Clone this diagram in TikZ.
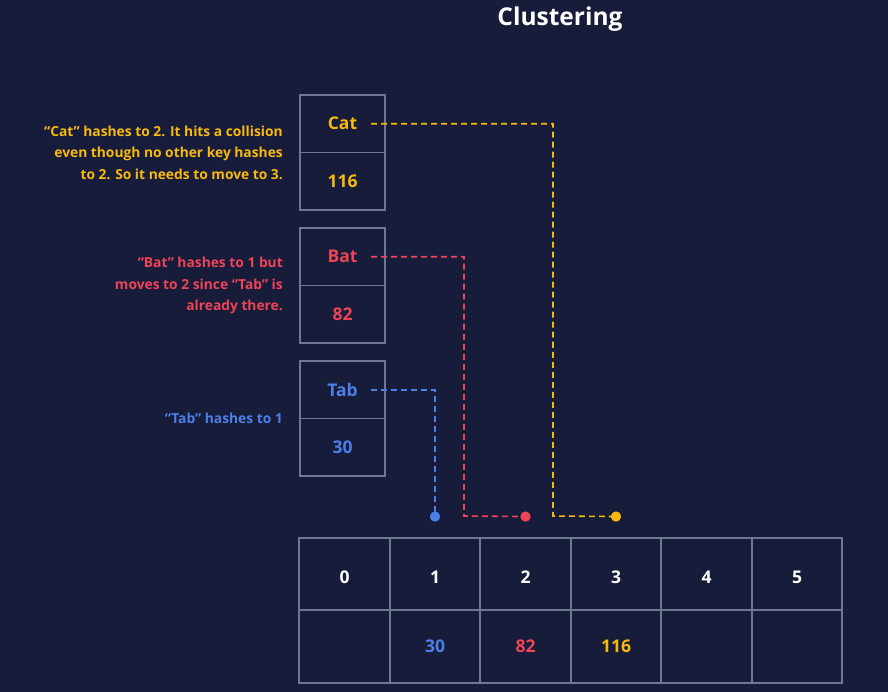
\documentclass[tikz,border=0pt]{standalone}
\usepackage{fontspec}
\setmainfont{Open Sans}
\usetikzlibrary{positioning}

\definecolor{bgnavy}{HTML}{161C3A}
\definecolor{boxgray}{HTML}{6E7891}
\definecolor{catyellow}{HTML}{F7B90F}
\definecolor{batred}{HTML}{EF4458}
\definecolor{tabblue}{HTML}{4C7FE8}

\begin{document}
\begin{tikzpicture}[x=1pt, y=-1pt,
    keycell/.style={draw=boxgray, line width=1.8pt, minimum width=85pt, minimum height=57.5pt,
        inner sep=0pt, outer sep=0pt, font=\bfseries\fontsize{17.5}{20}\selectfont},
    slot/.style={draw=boxgray, line width=1.8pt, minimum width=90.5pt, minimum height=72.5pt,
        inner sep=0pt, outer sep=0pt},
    slottext/.style={font=\bfseries\fontsize{17.5}{20}\selectfont},
    note/.style={align=right, inner sep=0pt, font=\bfseries\fontsize{13.8}{21.5}\selectfont},
    link/.style={dash pattern=on 6pt off 4pt, line width=1.6pt},
    hashdot/.style={circle, inner sep=0pt, minimum size=10pt}]

    % --- background ---
    \fill[bgnavy] (0,0) rectangle (888,692);
    \useasboundingbox (0,0) rectangle (888,692);

    \node[text=white, font=\bfseries\fontsize{24.5}{28}\selectfont] (title) at (560,19) {Clustering};

    % --- keys and values ---
    \node[keycell, text=catyellow] (catK) at (342.5,123.75) {Cat};
    \node[keycell, text=catyellow, below=0pt of catK] (catV) {116};
    \node[keycell, text=batred] (batK) at (342.5,256.75) {Bat};
    \node[keycell, text=batred, below=0pt of batK] (batV) {82};
    \node[keycell, text=tabblue] (tabK) at (342.5,389.75) {Tab};
    \node[keycell, text=tabblue, below=0pt of tabK] (tabV) {30};

    % --- notes ---
    \node[note, text=catyellow, left=17pt of catK.south west] (catNote)
        {“Cat” hashes to 2. It hits a collision\\even though no other key hashes\\to 2. So it needs to move to 3.};
    \node[note, text=batred, left=17pt of batK.south west] (batNote)
        {“Bat” hashes to 1 but\\moves to 2 since “Tab” is\\already there.};
    \node[note, text=tabblue, left=17pt of tabK.south west] (tabNote) {“Tab” hashes to 1};

    % --- hash table ---
    \foreach \i in {0,...,5} {
        \node[slot] (slot\i) at (344.5+90.5*\i,574) {};
        \node[slot, below=0pt of slot\i] (val\i) {};
        \node[slottext, text=white] (num\i) at ([yshift=-3pt]slot\i.center) {\i};
    }
    \node[slottext, text=tabblue] (tabCell) at (val1) {30};
    \node[slottext, text=batred] (batCell) at (val2) {82};
    \node[slottext, text=catyellow] (catCell) at (val3) {116};

    % --- dots above the slots ---
    \node[hashdot, fill=tabblue, above=16pt of slot1.north] (tabDot) {};
    \node[hashdot, fill=batred, above=16pt of slot2.north] (batDot) {};
    \node[hashdot, fill=catyellow, above=16pt of slot3.north] (catDot) {};

    % --- probing paths ---
    \coordinate (batTurn) at (464,516);
    \coordinate (catTurn) at (553,516);
    \draw[link, tabblue] ([xshift=28.5pt]tabK.center) -| (tabDot.center);
    \draw[link, batred] ([xshift=28.5pt]batK.center) -| (batTurn) -- (batDot.center);
    \draw[link, catyellow] ([xshift=28.5pt]catK.center) -| (catTurn) -- (catDot.center);
    \fill[tabblue] (tabDot) circle (5pt);
    \fill[batred] (batDot) circle (5pt);
    \fill[catyellow] (catDot) circle (5pt);

\end{tikzpicture}
\end{document}
